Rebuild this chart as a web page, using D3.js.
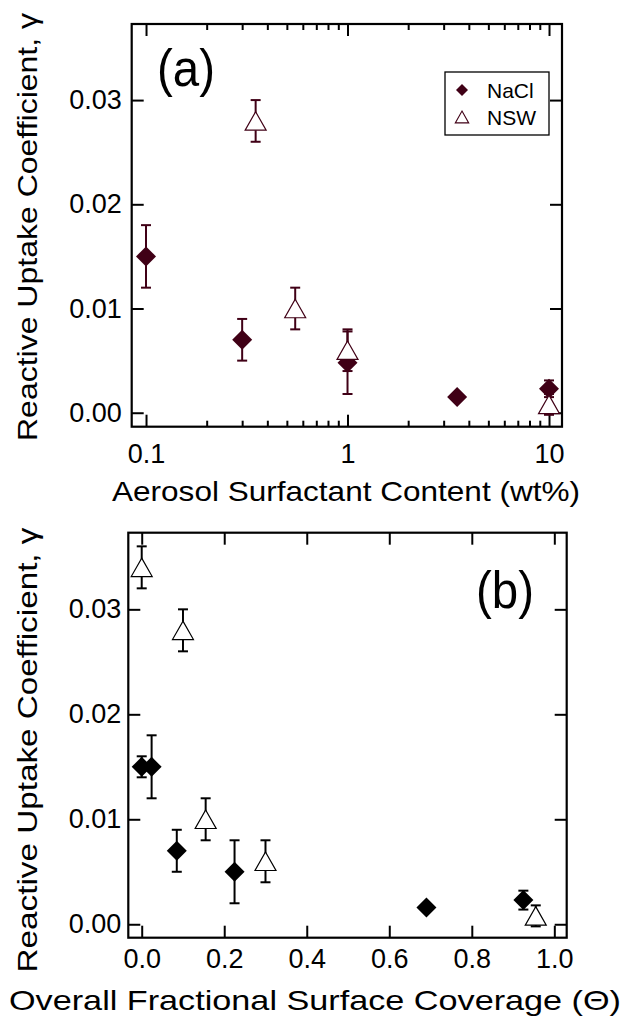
<!DOCTYPE html>
<html>
<head>
<meta charset="utf-8">
<script src="https://cdn.jsdelivr.net/npm/d3@7"></script>
<style>
  body { margin: 0; background: #fff; }
  svg { display: block; font-family: "Liberation Sans", Arial, sans-serif; }
</style>
</head>
<body>
<svg id="chart" width="628" height="1021"></svg>
<script>
  /* Data: panel (a) */
  var naclWt = [0.1, 0.3, 1.0, 3.5, 10];
  var naclGammaA = [0.015, 0.007, 0.0048, 0.0015, 0.0023];
  var naclErrA = [0.003, 0.002, 0.003, 0, 0.0008];

  var nswWt = [0.35, 0.55, 1.0, 10];
  var nswGammaA = [0.028, 0.010, 0.006, 0.0008];
  var nswErrA = [0.002, 0.002, 0.002, 0.001];

  /* Data: panel (b) */
  var naclTheta = [0.0, 0.024, 0.085, 0.225, 0.69, 0.925];
  var naclGammaB = [0.015, 0.015, 0.007, 0.005, 0.0016, 0.0023];
  var naclErrB = [0.001, 0.003, 0.002, 0.003, 0, 0.0009];

  var nswTheta = [0.0, 0.1, 0.155, 0.3, 0.955];
  var nswGammaB = [0.034, 0.028, 0.010, 0.006, 0.0008];
  var nswErrB = [0.002, 0.002, 0.002, 0.002, 0.001];

  /* Tick labels */
  var yTicks = [0, 0.01, 0.02, 0.03];
  var logMajor = [0.1, 1, 10];
  var logMinor = [0.2, 0.3, 0.4, 0.5, 0.6, 0.7, 0.8, 0.9, 2, 3, 4, 5, 6, 7, 8, 9];
  var linTicks = [0, 0.2, 0.4, 0.6, 0.8, 1.0];
  var legendNames = ["NaCl", "NSW"];

  var maroon = "#400016";
  var tickFont = 27;
  var titleFont = 28;

  function zip(xs, ys, es) {
    return xs.map((x, i) => ({ x: x, y: ys[i], e: es[i] }));
  }

  /* Triangle whose box is centred on the point */
  var triUp = {
    draw: function (ctx, size) {
      var w = Math.sqrt(size), h = w * 0.88;
      ctx.moveTo(0, -h / 2);
      ctx.lineTo(w / 2, h / 2);
      ctx.lineTo(-w / 2, h / 2);
      ctx.closePath();
    }
  };

  var svg = d3.select("svg#chart");

  function panel(opt) {
    var g = svg.append("g");
    var x = opt.x, y = opt.y;
    var x0 = x.range()[0], x1 = x.range()[1];
    var y0 = y.range()[1], y1 = y.range()[0];

    /* Ticks */
    var yAxis = d3.axisLeft(y).tickValues(yTicks).tickFormat(d3.format(".2f"))
      .tickSize(-12).tickSizeOuter(0).tickPadding(opt.yPad);
    g.append("g").attr("transform", `translate(${x0},0)`).call(yAxis);
    g.append("g").attr("transform", `translate(${x1},0)`)
      .call(d3.axisRight(y).tickValues(yTicks).tickFormat("").tickSize(-12).tickSizeOuter(0));

    opt.xTicks.forEach(function (t) {
      g.append("g").attr("transform", `translate(0,${y1})`)
        .call(d3.axisBottom(x).tickValues(t.values).tickFormat(t.format)
          .tickSize(-t.size).tickSizeOuter(0).tickPadding(opt.xPad));
      g.append("g").attr("transform", `translate(0,${y0})`)
        .call(d3.axisTop(x).tickValues(t.values).tickFormat("")
          .tickSize(-t.size).tickSizeOuter(0));
    });

    g.selectAll(".domain").remove();
    g.selectAll(".tick line").attr("stroke", "#000").attr("stroke-width", 2);
    g.selectAll(".tick text").attr("font-size", tickFont)
      .attr("font-family", "Liberation Sans, Arial, sans-serif").attr("fill", "#000");

    /* Frame */
    g.append("rect")
      .attr("x", x0).attr("y", y0)
      .attr("width", x1 - x0).attr("height", y1 - y0)
      .attr("fill", "none").attr("stroke", "#000").attr("stroke-width", 2.2);

    /* Series */
    opt.series.forEach(function (s) {
      var pts = s.data;
      var eb = g.append("g").attr("stroke", s.color).attr("stroke-width", 2);
      pts.filter(d => d.e > 0).forEach(function (d) {
        var cx = x(d.x), ya = y(d.y + d.e), yb = y(d.y - d.e);
        eb.append("line").attr("x1", cx).attr("x2", cx).attr("y1", ya).attr("y2", yb);
        eb.append("line").attr("x1", cx - 5).attr("x2", cx + 5).attr("y1", ya).attr("y2", ya);
        eb.append("line").attr("x1", cx - 5).attr("x2", cx + 5).attr("y1", yb).attr("y2", yb);
      });
      g.append("g").selectAll("path")
        .data(pts).enter()
        .append("path")
        .attr("d", s.symbol)
        .attr("transform", d => `translate(${x(d.x)},${y(d.y)})` + (s.rotate ? " rotate(45)" : ""))
        .attr("fill", s.fill)
        .attr("stroke", s.color)
        .attr("stroke-width", s.rotate ? 0 : 1.2);
    });

    /* Panel label */
    g.append("text")
      .attr("x", opt.label.x).attr("y", opt.label.y)
      .attr("font-size", 52)
      .attr("textLength", 58).attr("lengthAdjust", "spacingAndGlyphs")
      .text(opt.label.text);

    /* Axis titles */
    g.append("text")
      .attr("transform", `translate(${opt.yTitle.x},${opt.yTitle.y}) rotate(-90)`)
      .attr("text-anchor", "middle")
      .attr("font-size", titleFont)
      .attr("textLength", opt.yTitle.len).attr("lengthAdjust", "spacingAndGlyphs")
      .text("Reactive Uptake Coefficient, \u03b3");

    g.append("text")
      .attr("x", opt.xTitle.x).attr("y", opt.xTitle.y)
      .attr("text-anchor", "middle")
      .attr("font-size", titleFont)
      .attr("textLength", opt.xTitle.len).attr("lengthAdjust", "spacingAndGlyphs")
      .text(opt.xTitle.text);

    return g;
  }

  var diamond = d3.symbol(d3.symbolSquare, 200);
  var triangle = d3.symbol(triUp, 440);

  /* Panel (a) */
  var xA = d3.scaleLog().domain([0.0849, 11.6]).range([131.7, 562]);
  var yA = d3.scaleLinear().domain([-0.00134, 0.0373]).range([426.7, 24]);

  var gA = panel({
    x: xA, y: yA, xPad: 17, yPad: 10,
    xTicks: [
      { values: logMinor, size: 6, format: "" },
      { values: logMajor, size: 12, format: d3.format("~g") }
    ],
    series: [
      { data: zip(naclWt, naclGammaA, naclErrA), symbol: diamond, rotate: true, fill: maroon, color: maroon },
      { data: zip(nswWt, nswGammaA, nswErrA), symbol: triangle, rotate: false, fill: "#fff", color: maroon }
    ],
    label: { x: 157, y: 86, text: "(a)" },
    yTitle: { x: 37, y: 227, len: 428 },
    xTitle: { x: 346, y: 501, len: 468, text: "Aerosol Surfactant Content (wt%)" }
  });

  /* Legend */
  var legend = gA.append("g").attr("transform", "translate(445,72)");
  legend.append("rect")
    .attr("width", 104).attr("height", 63)
    .attr("fill", "#fff").attr("stroke", "#000").attr("stroke-width", 1.3);
  legend.append("path")
    .attr("d", d3.symbol(d3.symbolSquare, 72)())
    .attr("transform", "translate(17,18) rotate(45)")
    .attr("fill", maroon);
  legend.append("path")
    .attr("d", d3.symbol(triUp, 180)())
    .attr("transform", "translate(17,45)")
    .attr("fill", "#fff").attr("stroke", maroon).attr("stroke-width", 1.1);
  legend.selectAll("text.lg")
    .data(legendNames).enter()
    .append("text")
    .attr("class", "lg")
    .attr("x", 42).attr("y", (d, i) => 26 + i * 27)
    .attr("font-size", 21)
    .text(d => d);

  /* Panel (b) */
  var xB = d3.scaleLinear().domain([-0.0325, 1.030]).range([128.3, 566.7]);
  var yB = d3.scaleLinear().domain([-0.00128, 0.0373]).range([937.7, 532.7]);

  panel({
    x: xB, y: yB, xPad: 11, yPad: 7,
    xTicks: [
      { values: linTicks, size: 12, format: d3.format(".1f") }
    ],
    series: [
      { data: zip(naclTheta, naclGammaB, naclErrB), symbol: diamond, rotate: true, fill: "#000", color: "#000" },
      { data: zip(nswTheta, nswGammaB, nswErrB), symbol: triangle, rotate: false, fill: "#fff", color: "#000" }
    ],
    label: { x: 476, y: 608, text: "(b)" },
    yTitle: { x: 37, y: 750, len: 445 },
    xTitle: { x: 315, y: 1010, len: 612, text: "Overall Fractional Surface Coverage (\u0398)" }
  });
</script>
</body>
</html>
